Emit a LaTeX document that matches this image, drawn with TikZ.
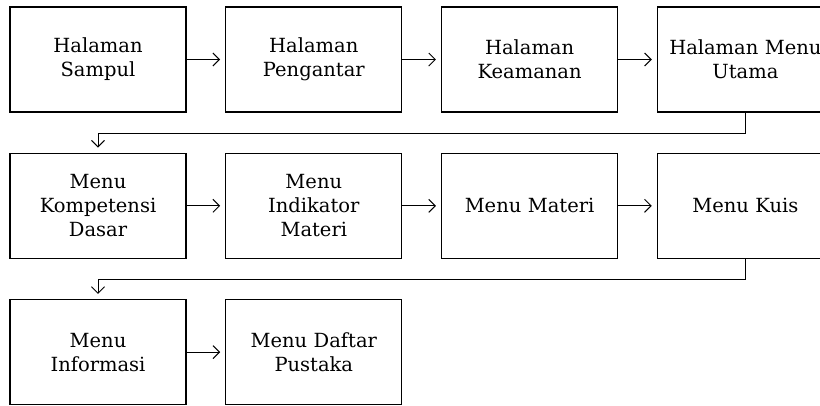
\documentclass[tikz,border=0pt]{standalone}
\usepackage{fontspec}
\setmainfont{DejaVu Serif}
\usetikzlibrary{
        arrows.meta,
        positioning
    }
\tikzset{>={Straight Barb[length=6.5pt,width=13pt]},shorten >=5pt,node distance=40pt and 38.5pt}
\tikzset{page/.style={draw,line width=1.3pt,minimum width=176pt,minimum height=105pt,
        text width=170pt,align=center,inner sep=0pt,font=\fontsize{19.5}{24}\selectfont}}

\begin{document}
\begin{tikzpicture}
                \useasboundingbox (0pt,0pt) rectangle (820pt,-405pt);
                \node[page] (sampul) at (98pt,-59.5pt) {Halaman\\Sampul};
                \node[page] (pengantar) [right=of sampul] {Halaman\\Pengantar};
                \node[page] (keamanan)  [right=of pengantar] {Halaman\\Keamanan};
                \node[page] (utama)     [right=of keamanan] {Halaman Menu\\Utama};
                \node[page] (kd)        [below=of sampul] {Menu\\Kompetensi\\Dasar};
                \node[page] (indikator) [right=of kd] {Menu\\Indikator\\Materi};
                \node[page] (materi)    [right=of indikator] {Menu Materi};
                \node[page] (kuis)      [right=of materi] {Menu Kuis};
                \node[page] (info)      [below=of kd] {Menu\\Informasi};
                \node[page] (pustaka)   [right=of info] {Menu Daftar\\Pustaka};
                \path[->,line width=1pt]
                    (sampul)    edge (pengantar)
                    (pengantar) edge (keamanan)
                    (keamanan)  edge (utama)
                    (kd)        edge (indikator)
                    (indikator) edge (materi)
                    (materi)    edge (kuis)
                    (info)      edge (pustaka);
                \draw[->,line width=1pt] (utama.south) -- ++(0,-20.5pt) -| (kd.north);
                \draw[->,line width=1pt] (kuis.south) -- ++(0,-20.5pt) -| (info.north);
            \end{tikzpicture}
\end{document}
